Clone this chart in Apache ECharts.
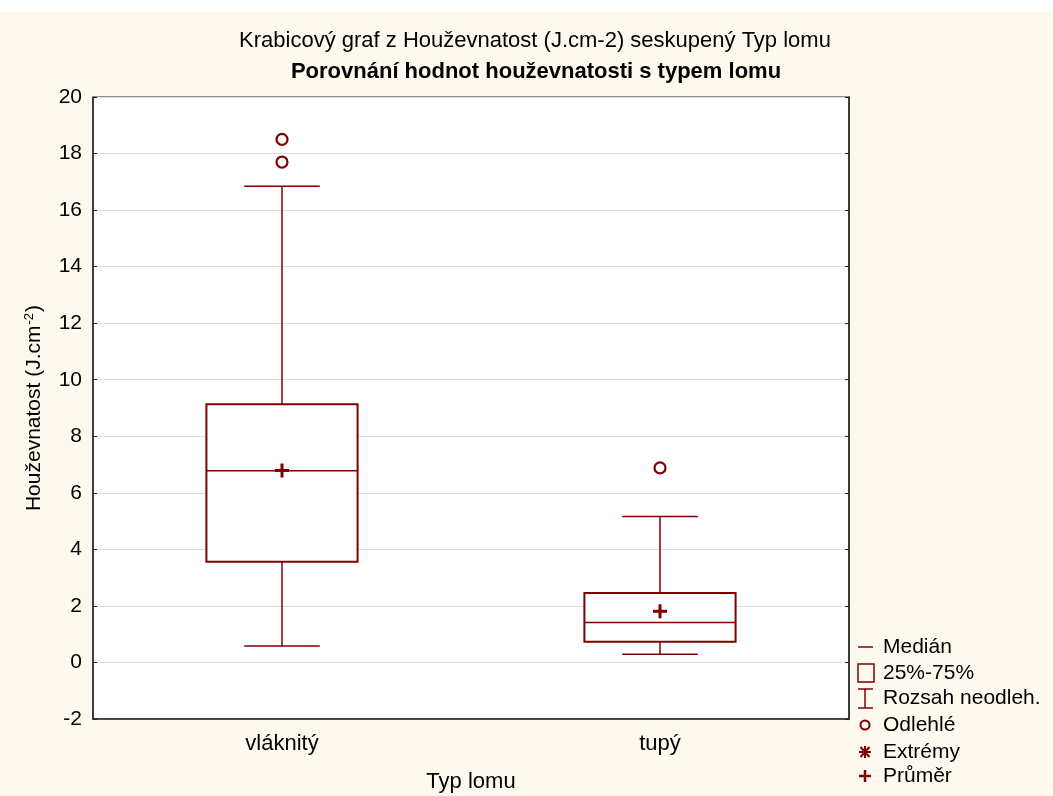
<!DOCTYPE html>
<html>
<head>
<meta charset="utf-8">
<script src="https://cdn.jsdelivr.net/npm/echarts@6/dist/echarts.min.js"></script>
<style>
html,body{margin:0;padding:0;background:#fff;}
#c{width:1053px;height:796px;}
</style>
</head>
<body>
<div id="c"></div>
<script>
// ---- data ----
var categories = ['vláknitý', 'tupý'];
var whiskerLow  = [0.58, 0.29];
var q1          = [3.56, 0.73];
var median      = [6.78, 1.41];
var q3          = [9.13, 2.46];
var whiskerHigh = [16.84, 5.16];
var mean        = [6.79, 1.81];
var outlierCat  = [0, 0, 1];
var outlierVal  = [18.5, 17.7, 6.88];
var yTicks = { min: -2, max: 20, interval: 2 };

var titleLine1 = 'Krabicový graf z Houževnatost (J.cm-2) seskupený Typ lomu';
var titleLine2 = 'Porovnání hodnot houževnatosti s typem lomu';
var legendLabels = ['Medián', '25%-75%', 'Rozsah neodleh.', 'Odlehlé', 'Extrémy', 'Průměr'];

var RED = '#800000';
var FONT = 'Liberation Sans, Arial, sans-serif';

var boxData = categories.map(function (c, i) {
  return [i, whiskerLow[i], q1[i], median[i], q3[i], whiskerHigh[i], mean[i]];
});
var outData = outlierCat.map(function (c, i) { return [c, outlierVal[i]]; });

function renderBox(params, api) {
  var x = api.value(0);
  var band = api.size([1, 0])[0];
  var half = band * 0.2;
  var capHalf = half / 2;
  var pLow = api.coord([x, api.value(1)]);
  var pQ1 = api.coord([x, api.value(2)]);
  var pMed = api.coord([x, api.value(3)]);
  var pQ3 = api.coord([x, api.value(4)]);
  var pHigh = api.coord([x, api.value(5)]);
  var pMean = api.coord([x, api.value(6)]);
  var cx = pQ1[0];
  var lineStyle = { stroke: RED, lineWidth: 1.5, fill: null };
  return {
    type: 'group',
    children: [
      { type: 'line', shape: { x1: cx, y1: pQ3[1], x2: cx, y2: pHigh[1] }, style: lineStyle },
      { type: 'line', shape: { x1: cx, y1: pQ1[1], x2: cx, y2: pLow[1] }, style: lineStyle },
      { type: 'line', shape: { x1: cx - capHalf, y1: pHigh[1], x2: cx + capHalf, y2: pHigh[1] }, style: lineStyle },
      { type: 'line', shape: { x1: cx - capHalf, y1: pLow[1], x2: cx + capHalf, y2: pLow[1] }, style: lineStyle },
      { type: 'rect', shape: { x: cx - half, y: pQ3[1], width: half * 2, height: pQ1[1] - pQ3[1] },
        style: { stroke: RED, lineWidth: 2, fill: '#fff' } },
      { type: 'line', shape: { x1: cx - half, y1: pMed[1], x2: cx + half, y2: pMed[1] }, style: lineStyle },
      { type: 'line', shape: { x1: cx - 7, y1: pMean[1], x2: cx + 7, y2: pMean[1] }, style: { stroke: RED, lineWidth: 3 } },
      { type: 'line', shape: { x1: cx, y1: pMean[1] - 7, x2: cx, y2: pMean[1] + 7 }, style: { stroke: RED, lineWidth: 3 } }
    ]
  };
}

// legend graphics
var LX = 865, TX = 883;
var rowsY = [647, 673, 698, 725, 752, 776];
var legendGraphics = [
  { type: 'line', shape: { x1: 858, y1: rowsY[0], x2: 873, y2: rowsY[0] }, style: { stroke: RED, lineWidth: 1.5 } },
  { type: 'rect', shape: { x: 858, y: rowsY[1] - 9, width: 16, height: 18 }, style: { stroke: RED, lineWidth: 1.5, fill: 'none' } },
  { type: 'line', shape: { x1: 858, y1: rowsY[2] - 9, x2: 873, y2: rowsY[2] - 9 }, style: { stroke: RED, lineWidth: 1.5 } },
  { type: 'line', shape: { x1: 858, y1: rowsY[2] + 10, x2: 873, y2: rowsY[2] + 10 }, style: { stroke: RED, lineWidth: 1.5 } },
  { type: 'line', shape: { x1: LX, y1: rowsY[2] - 9, x2: LX, y2: rowsY[2] + 10 }, style: { stroke: RED, lineWidth: 1.5 } },
  { type: 'circle', shape: { cx: LX, cy: rowsY[3], r: 4.5 }, style: { stroke: RED, lineWidth: 2, fill: 'none' } },
  { type: 'line', shape: { x1: LX - 6, y1: rowsY[4], x2: LX + 6, y2: rowsY[4] }, style: { stroke: RED, lineWidth: 2 } },
  { type: 'line', shape: { x1: LX - 4.5, y1: rowsY[4] - 5, x2: LX + 4.5, y2: rowsY[4] + 5 }, style: { stroke: RED, lineWidth: 2 } },
  { type: 'line', shape: { x1: LX + 4.5, y1: rowsY[4] - 5, x2: LX - 4.5, y2: rowsY[4] + 5 }, style: { stroke: RED, lineWidth: 2 } },
  { type: 'line', shape: { x1: LX, y1: rowsY[4] - 6, x2: LX, y2: rowsY[4] + 6 }, style: { stroke: RED, lineWidth: 2 } },
  { type: 'line', shape: { x1: LX - 6, y1: rowsY[5], x2: LX + 6, y2: rowsY[5] }, style: { stroke: RED, lineWidth: 2.5 } },
  { type: 'line', shape: { x1: LX, y1: rowsY[5] - 6, x2: LX, y2: rowsY[5] + 6 }, style: { stroke: RED, lineWidth: 2.5 } }
];
legendLabels.forEach(function (t, i) {
  legendGraphics.push({ type: 'text', x: TX, y: rowsY[i],
    style: { text: t, font: '21px ' + FONT, fill: '#000', textVerticalAlign: 'middle', textAlign: 'left' } });
});

var chart = echarts.init(document.getElementById('c'), null, { renderer: 'canvas' });
chart.setOption({
  backgroundColor: '#fdf9ef',
  animation: false,
  graphic: [
    { type: 'rect', z: -10, shape: { x: 0, y: 0, width: 1053, height: 12 }, style: { fill: '#ffffff' } },
    { type: 'text', x: 535, y: 41, style: { text: titleLine1, font: '22px ' + FONT, fill: '#000', textAlign: 'center', textVerticalAlign: 'middle' } },
    { type: 'text', x: 536, y: 72, style: { text: titleLine2, font: 'bold 22px ' + FONT, fill: '#000', textAlign: 'center', textVerticalAlign: 'middle' } }
  ].concat(legendGraphics),
  grid: { left: 93, right: 204, top: 97, bottom: 77, outerBoundsMode: 'none', containLabel: false,
    show: true, backgroundColor: '#fff', borderColor: '#222', borderWidth: 1 },
  xAxis: [{
    type: 'category', data: categories, position: 'bottom',
    axisLine: { onZero: false, lineStyle: { color: '#222', width: 1.5 } },
    axisTick: { inside: true, alignWithLabel: true, length: 4, lineStyle: { color: '#222' } },
    axisLabel: { fontSize: 22, fontFamily: FONT, color: '#000', margin: 14 },
    name: 'Typ lomu', nameLocation: 'middle', nameGap: 52,
    nameTextStyle: { fontSize: 22, fontFamily: FONT, color: '#000' },
    splitLine: { show: false }
  }],
  yAxis: [{
    type: 'value', min: yTicks.min, max: yTicks.max, interval: yTicks.interval, position: 'left',
    axisLine: { show: true, lineStyle: { color: '#222', width: 1.5 } },
    axisTick: { show: true, inside: true, length: 4, lineStyle: { color: '#222' } },
    axisLabel: { fontSize: 21, fontFamily: FONT, color: '#000', margin: 11 },
    splitLine: { show: true, lineStyle: { color: '#dcdcdc', width: 1 } },
    name: '{a|Houževnatost (J.cm}{s|-2}{a|)}', nameLocation: 'middle', nameGap: 48, nameRotate: 90,
    nameTextStyle: {
      fontFamily: FONT, color: '#000',
      rich: {
        a: { fontSize: 21, fontFamily: FONT, color: '#000', verticalAlign: 'bottom' },
        s: { fontSize: 13, fontFamily: FONT, color: '#000', verticalAlign: 'bottom', padding: [0, 1, 9, 1] }
      }
    }
  }, {
    type: 'value', min: yTicks.min, max: yTicks.max, interval: yTicks.interval, position: 'right',
    axisLine: { show: true, lineStyle: { color: '#222', width: 1.5 } },
    axisTick: { show: true, inside: true, length: 4, lineStyle: { color: '#222' } },
    axisLabel: { show: false },
    splitLine: { show: false }
  }],
  series: [{
    type: 'custom',
    renderItem: renderBox,
    data: boxData,
    encode: { x: 0, y: [1, 2, 3, 4, 5] },
    z: 5
  }, {
    type: 'scatter',
    data: outData,
    symbol: 'circle',
    symbolSize: 11,
    itemStyle: { color: '#fff', borderColor: RED, borderWidth: 2.2, opacity: 1 },
    z: 6
  }]
});
</script>
</body>
</html>
